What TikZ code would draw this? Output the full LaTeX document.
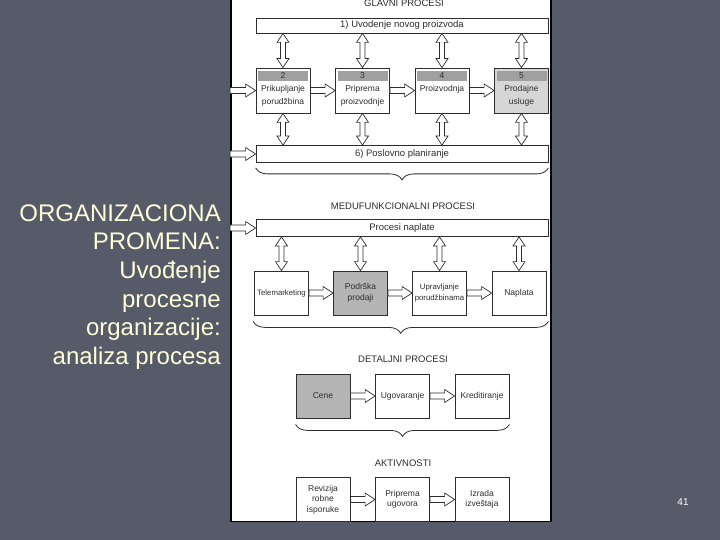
\documentclass[tikz,border=0pt]{standalone}
\usepackage{fontspec}
\setmainfont{Liberation Sans}
\usetikzlibrary{calc,positioning,decorations.pathreplacing}
\definecolor{slidebg}{RGB}{87,90,105}
\definecolor{slidetext}{RGB}{255,255,215}
\definecolor{hdrgray}{RGB}{160,160,160}
\definecolor{boxgray}{RGB}{180,180,180}
\definecolor{palegray}{RGB}{214,214,214}
\definecolor{inkgray}{RGB}{45,45,45}

\begin{document}
\begin{tikzpicture}[x=1pt, y=-1pt,
        box/.style={rectangle, draw=inkgray, fill=white, line width=0.8pt, minimum width=54pt, minimum height=44pt, inner sep=0.5pt, align=center, text=inkgray, font=\fontsize{8.5}{10.5}\selectfont},
        bar/.style={rectangle, draw=inkgray, fill=white, line width=0.8pt, minimum width=292pt, minimum height=17pt, inner sep=0pt, text=inkgray, font=\fontsize{9.5}{11}\selectfont},
        hdr/.style={rectangle, fill=hdrgray, minimum width=50pt, minimum height=10pt, inner sep=0pt, text=inkgray, font=\fontsize{8.5}{9}\selectfont},
        lbl/.style={inner sep=0.5pt, align=center, text=inkgray, font=\fontsize{8.5}{12.5}\selectfont},
        narrow/.style={font=\fontsize{7.8}{10.5}\selectfont},
        title/.style={inner sep=0pt, text=inkgray, font=\fontsize{9.5}{11}\selectfont},
        dblarrow/.style={draw=inkgray, fill=white, line width=0.7pt, to path={let \p1=(\tikztostart), \p2=(\tikztotarget) in
            (\x1,\y1) -- (\x1+6pt,\y1-9pt) -- (\x1+2.5pt,\y1-9pt) -- (\x1+2.5pt,\y2+9pt) -- (\x1+6pt,\y2+9pt) -- (\x1,\y2)
            -- (\x1-6pt,\y2+9pt) -- (\x1-2.5pt,\y2+9pt) -- (\x1-2.5pt,\y1-9pt) -- (\x1-6pt,\y1-9pt) -- cycle}},
        fwdarrow/.style={draw=inkgray, fill=white, line width=0.7pt, to path={let \p1=(\tikztostart), \p2=(\tikztotarget) in
            (\x1,\y1+3pt) -- (\x2-10pt,\y1+3pt) -- (\x2-10pt,\y1+6.5pt) -- (\x2,\y1)
            -- (\x2-10pt,\y1-6.5pt) -- (\x2-10pt,\y1-3pt) -- (\x1,\y1-3pt) -- cycle}},
        brc/.style={decorate, decoration={brace, mirror, amplitude=12pt, aspect=0.5}, draw=inkgray, line width=0.8pt}
    ]
    \useasboundingbox (0,0) rectangle (720,540);
    \fill[slidebg] (0,0) rectangle (720,540);

    % slide text
    \node[anchor=east, align=right, inner sep=0pt, text=slidetext, font=\fontsize{24}{28.6}\selectfont] (heading) at (221,287)
        {ORGANIZACIONA\\PROMENA:\\Uvođenje\\procesne\\organizacije:\\analiza procesa};
    \node[text=white, font=\fontsize{10}{12}\selectfont] (pagenum) at (683,502) {41};

    % white panel
    \node[draw=black, line width=1.5pt, fill=white, minimum width=320pt, minimum height=526pt, inner sep=0pt, anchor=south west] (panel) at (230,522) {};

    % main processes
    \node[title] (glavni) at (404,3) {GLAVNI PROCESI};
    \node[bar, minimum height=15pt] (uvod) at (402,25.5) {1) Uvodenje novog proizvoda};

    \node[box, minimum height=45pt] (prik) at (283,90.5) {};
    \node[hdr, anchor=north] (prikh) at ([yshift=-3pt]prik.north) {2};
    \node[lbl, anchor=north] (prikt) at ([yshift=-4pt]prikh.south) {Prikupljanje\\porudžbina};

    \node[box, minimum height=45pt] (prip) at (362.5,90.5) {};
    \node[hdr, anchor=north] (priph) at ([yshift=-3pt]prip.north) {3};
    \node[lbl, anchor=north] (pript) at ([yshift=-4pt]priph.south) {Priprema\\proizvodnje};

    \node[box, minimum height=45pt] (proiz) at (442,90.5) {};
    \node[hdr, anchor=north] (proizh) at ([yshift=-3pt]proiz.north) {4};
    \node[lbl, anchor=north] (proizt) at ([yshift=-4pt]proizh.south) {Proizvodnja};

    \node[box, minimum height=45pt, fill=palegray] (prod) at (521.5,90.5) {};
    \node[hdr, anchor=north] (prodh) at ([yshift=-3pt]prod.north) {5};
    \node[lbl, anchor=north] (prodt) at ([yshift=-4pt]prodh.south) {Prodajne\\usluge};

    \node[bar] (posl) at (402,154) {6) Poslovno planiranje};

    \draw[dblarrow] (uvod.south -| prik) to (prik.north);
    \draw[dblarrow] (uvod.south -| prip) to (prip.north);
    \draw[dblarrow] (uvod.south -| proiz) to (proiz.north);
    \draw[dblarrow] (uvod.south -| prod) to (prod.north);
    \draw[dblarrow] (prik.south) to (posl.north -| prik);
    \draw[dblarrow] (prip.south) to (posl.north -| prip);
    \draw[dblarrow] (proiz.south) to (posl.north -| proiz);
    \draw[dblarrow] (prod.south) to (posl.north -| prod);

    \draw[fwdarrow] (panel.west |- prik.west) to (prik.west);
    \draw[fwdarrow] (prik.east) to (prip.west);
    \draw[fwdarrow] (prip.east) to (proiz.west);
    \draw[fwdarrow] (proiz.east) to (prod.west);
    \draw[fwdarrow] (panel.west |- posl.west) to (posl.west);

    \draw[brc] ($(posl.south west)+(0,5)$) -- ($(posl.south east)+(0,5)$);

    % cross-functional processes
    \node[title] (medu) at (403,206) {MEDUFUNKCIONALNI PROCESI};
    \node[bar] (napl) at (402,228) {Procesi naplate};

    \node[box, narrow] (tele) at (281.5,293) {Telemarketing};
    \node[box, fill=boxgray] (podr) at (360.5,293) {Podrška\\prodaji};
    \node[box, narrow] (uprav) at (439.5,293) {Upravljanje\\porudžbinama};
    \node[box] (naplata) at (519,293) {Naplata};

    \draw[fwdarrow] (panel.west |- napl.west) to (napl.west);
    \draw[dblarrow] (napl.south -| tele) to (tele.north);
    \draw[dblarrow] (napl.south -| podr) to (podr.north);
    \draw[dblarrow] (napl.south -| uprav) to (uprav.north);
    \draw[dblarrow] (napl.south -| naplata) to (naplata.north);
    \draw[fwdarrow] (tele.east) to (podr.west);
    \draw[fwdarrow] (podr.east) to (uprav.west);
    \draw[fwdarrow] (uprav.east) to (naplata.west);

    \draw[brc] ($(tele.south west)+(-1,6)$) -- ($(tele.south west -| napl.east)+(0,6)$);

    % detailed processes
    \node[title] (detalj) at (403,359) {DETALJNI PROCESI};
    \node[box, fill=boxgray] (cene) at (323,396) {Cene};
    \node[box] (ugov) at (402.5,396) {Ugovaranje};
    \node[box] (kred) at (482,396) {Kreditiranje};
    \draw[fwdarrow] (cene.east) to (ugov.west);
    \draw[fwdarrow] (ugov.east) to (kred.west);

    \draw[brc] ($(cene.south west)+(0,6)$) -- ($(kred.south east)+(0,6)$);

    % activities
    \node[title] (aktiv) at (403,463) {AKTIVNOSTI};
    \node[box] (rev) at (323,499.5) {Revizija\\robne\\isporuke};
    \node[box] (pripu) at (402.5,499.5) {Priprema\\ugovora};
    \node[box] (izrada) at (482,499.5) {Izrada\\izveštaja};
    \draw[fwdarrow] (rev.east) to (pripu.west);
    \draw[fwdarrow] (pripu.east) to (izrada.west);
\end{tikzpicture}
\end{document}
